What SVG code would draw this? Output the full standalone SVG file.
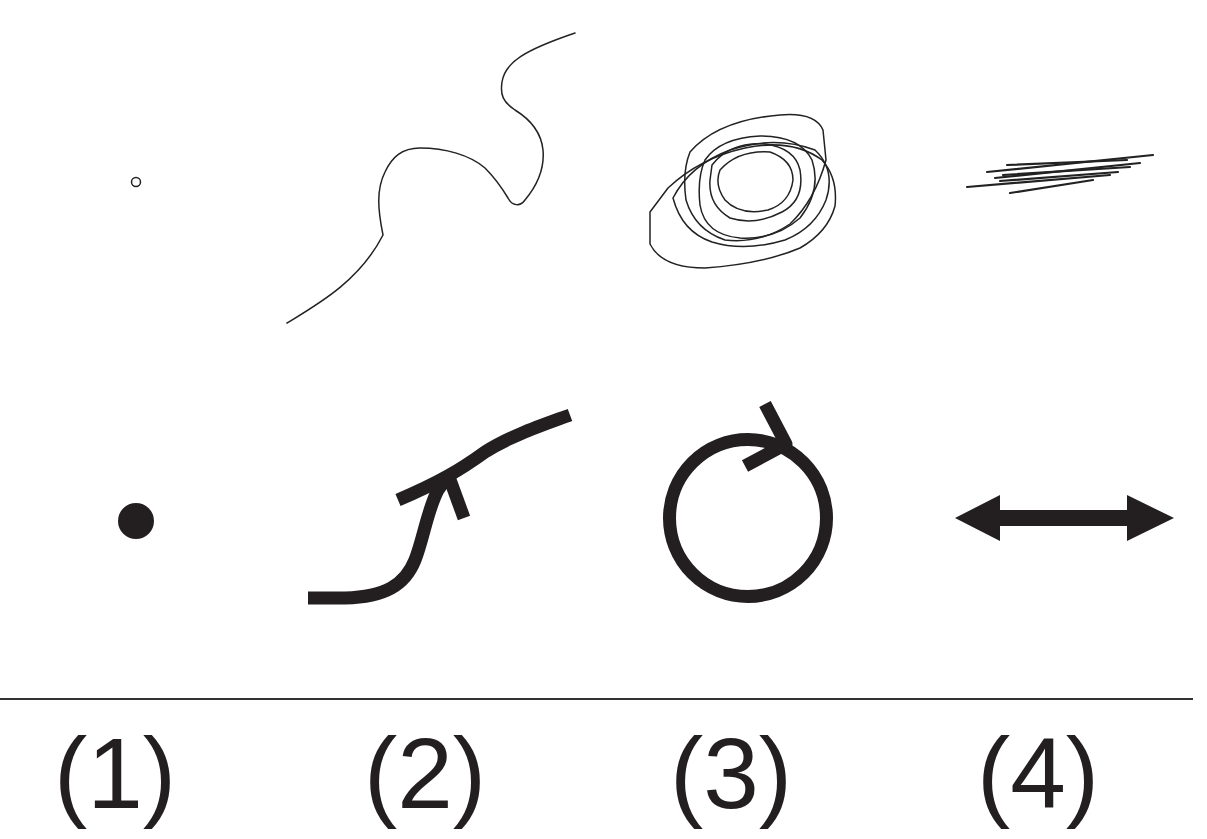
<svg xmlns="http://www.w3.org/2000/svg" width="1207" height="839" viewBox="0 0 1207 839">
<style>
.thin{fill:none;stroke:#222;stroke-width:1.5;stroke-linejoin:round;stroke-linecap:round}
.scr{fill:none;stroke:#222;stroke-width:2.2;stroke-linecap:round}
.thick{fill:none;stroke:#231f20;stroke-width:13;stroke-linejoin:round}
.lbl{font-family:"Liberation Sans",Arial,sans-serif;font-size:100px;fill:#231f20;text-anchor:middle}
</style>
<rect width="1207" height="839" fill="#fff"/>
<g id="sketch-1"><circle cx="136" cy="182" r="4.5" class="thin" stroke="#555"/></g>
<g id="sketch-2"><path class="thin" d="M287,323 C320,303 360,280 383,235 C378,210 376,190 385,172 C392,157 402,148 420,148 C445,148 470,155 485,168 C495,178 502,188 508,198 C512,206 520,207 525,200 C535,188 545,172 543,150 C541,130 528,118 515,110 C503,102 500,95 502,82 C505,62 525,50 575,33"/></g>
<g id="sketch-3">
<path class="thin" d="M650,212 L668,188 Q700,158 745,148 Q792,138 822,160 Q838,178 835,206 Q828,232 800,248 Q762,264 705,268 Q662,268 650,244 Z"/>
<path class="thin" d="M690,152 Q718,120 780,115 Q815,112 823,130 L826,160 Q815,200 790,224 Q760,244 725,240 Q695,230 686,200 Q682,172 690,152"/>
<path class="thin" d="M705,160 Q720,138 760,136 Q800,136 812,160 Q822,190 800,218 Q775,240 740,238 Q705,235 700,205 Q697,178 705,160"/>
<path class="thin" d="M712,165 Q730,142 765,144 Q795,148 800,170 Q805,200 782,212 Q755,226 730,218 Q708,205 710,180 Z"/>
<path class="thin" d="M720,170 Q738,150 770,152 Q793,160 793,180 Q790,203 768,210 Q740,216 725,200 Q714,185 720,170"/>
<path class="thin" d="M673,198 Q690,165 730,150 Q775,135 815,150 Q836,170 826,200 Q815,228 785,240 Q745,252 712,242 Q682,232 673,198"/>
</g>
<g id="sketch-4">
<path class="scr" d="M987,172 L1153,155"/>
<path class="scr" d="M967,187 L1110,175"/>
<path class="scr" d="M1010,193 L1093,180"/>
<path class="scr" d="M1003,175 L1130,167"/>
<path class="scr" d="M1007,165 L1127,160"/>
<path class="scr" d="M1000,181 L1118,172"/>
<path class="scr" d="M995,178 L1140,163"/>
</g>
<g id="symbol-1"><circle cx="136" cy="521" r="18" fill="#231f20"/></g>
<g id="symbol-2">
<path class="thick" d="M308,598 L345,598 C385,597 405,585 415,560 C423,540 428,508 438,490 L448,476"/>
<path class="thick" d="M398,500 C440,482 460,470 485,452 C510,436 540,426 570,415"/>
<path class="thick" d="M449,477 L464,518"/>
</g>
<g id="symbol-3">
<circle cx="748" cy="518" r="78.5" class="thick"/>
<path class="thick" d="M765,404 L786,444 L745,466"/>
</g>
<g id="symbol-4"><path fill="#231f20" d="M955,518 L1000,495 L1000,510 L1127,510 L1127,495 L1174,518 L1127,541 L1127,526 L1000,526 L1000,541 Z"/></g>
<g id="divider"><line x1="0" y1="699" x2="1193" y2="699" stroke="#333" stroke-width="2"/></g>
<g id="labels">
<text class="lbl" x="115" y="808">(1)</text>
<text class="lbl" x="425" y="808">(2)</text>
<text class="lbl" x="731" y="808">(3)</text>
<text class="lbl" x="1038" y="808">(4)</text>
</g>
</svg>
